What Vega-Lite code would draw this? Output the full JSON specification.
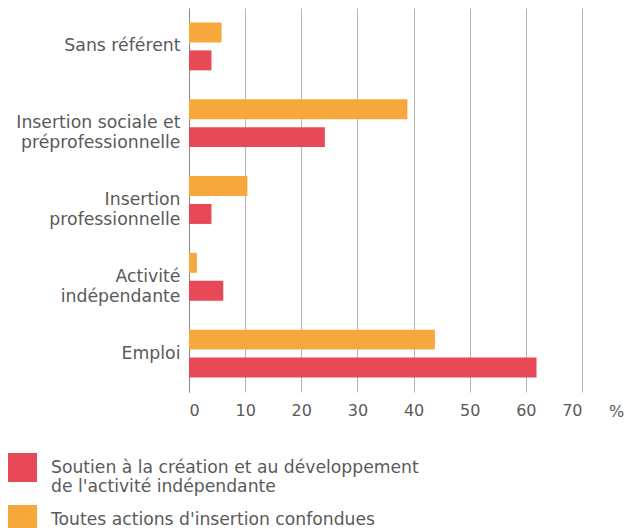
{
  "$schema": "https://vega.github.io/schema/vega-lite/v6.json",
  "autosize": "none",
  "width": 393,
  "height": 384,
  "padding": {"left": 189, "top": 8, "right": 47, "bottom": 136},
  "background": "white",
  "config": {
    "view": {"stroke": null},
    "font": "DejaVu Sans",
    "axis": {"labelColor": "#5a5a5a", "titleColor": "#5a5a5a"},
    "legend": {"labelColor": "#5a5a5a"}
  },
  "data": {
    "values": [
      {"categorie": "Sans référent", "serie": "Toutes actions d'insertion confondues", "valeur": 5.8},
      {"categorie": "Sans référent", "serie": "Soutien à la création et au développement de l'activité indépendante", "valeur": 4.0},
      {"categorie": "Insertion sociale et préprofessionnelle", "serie": "Toutes actions d'insertion confondues", "valeur": 38.9},
      {"categorie": "Insertion sociale et préprofessionnelle", "serie": "Soutien à la création et au développement de l'activité indépendante", "valeur": 24.2},
      {"categorie": "Insertion professionnelle", "serie": "Toutes actions d'insertion confondues", "valeur": 10.4},
      {"categorie": "Insertion professionnelle", "serie": "Soutien à la création et au développement de l'activité indépendante", "valeur": 4.0},
      {"categorie": "Activité indépendante", "serie": "Toutes actions d'insertion confondues", "valeur": 1.4},
      {"categorie": "Activité indépendante", "serie": "Soutien à la création et au développement de l'activité indépendante", "valeur": 6.1},
      {"categorie": "Emploi", "serie": "Toutes actions d'insertion confondues", "valeur": 43.8},
      {"categorie": "Emploi", "serie": "Soutien à la création et au développement de l'activité indépendante", "valeur": 61.9}
    ]
  },
  "mark": {"type": "bar"},
  "encoding": {
    "y": {
      "field": "categorie",
      "type": "nominal",
      "sort": ["Sans référent", "Insertion sociale et préprofessionnelle", "Insertion professionnelle", "Activité indépendante", "Emploi"],
      "scale": {"paddingInner": 0.377, "paddingOuter": 0.1885},
      "axis": {
        "title": null,
        "ticks": false,
        "domain": true,
        "domainColor": "#8a8a8a",
        "domainWidth": 1,
        "labelFontSize": 17.3,
        "labelFontWeight": "normal",
        "labelPadding": 9,
        "labelLineHeight": 20,
        "labelLimit": 200,
        "labelExpr": "datum.label == 'Insertion sociale et préprofessionnelle' ? ['Insertion sociale et', 'préprofessionnelle'] : datum.label == 'Insertion professionnelle' ? ['Insertion', 'professionnelle'] : datum.label == 'Activité indépendante' ? ['Activité', 'indépendante'] : datum.label"
      }
    },
    "yOffset": {
      "field": "serie",
      "type": "nominal",
      "sort": ["Toutes actions d'insertion confondues", "Soutien à la création et au développement de l'activité indépendante"],
      "scale": {"paddingInner": 0.2857, "paddingOuter": 0}
    },
    "x": {
      "field": "valeur",
      "type": "quantitative",
      "scale": {"domain": [0, 70], "nice": false},
      "axis": {
        "values": [0, 10, 20, 30, 40, 50, 60, 70],
        "grid": true,
        "gridColor": "#b5b5b5",
        "gridWidth": 1,
        "ticks": false,
        "domain": false,
        "labelFontSize": 16,
        "labelPadding": 10,
        "title": "%",
        "titleFontSize": 16,
        "titleFontWeight": "normal",
        "titleAngle": 0,
        "titleX": 427,
        "titleY": 19,
        "titleBaseline": "middle",
        "titleAlign": "center"
      }
    },
    "color": {
      "field": "serie",
      "type": "nominal",
      "scale": {
        "domain": ["Soutien à la création et au développement de l'activité indépendante", "Toutes actions d'insertion confondues"],
        "range": ["#e84956", "#f6a83c"]
      },
      "legend": {
        "title": null,
        "orient": "none",
        "legendX": -181,
        "legendY": 445,
        "direction": "vertical",
        "symbolType": "square",
        "symbolSize": 840,
        "symbolStrokeWidth": 0,
        "symbolOpacity": 1,
        "labelFontSize": 17.2,
        "labelLineHeight": 18,
        "labelOffset": 14,
        "labelLimit": 500,
        "rowPadding": 10,
        "labelExpr": "datum.label == \"Soutien à la création et au développement de l'activité indépendante\" ? ['Soutien à la création et au développement', \"de l'activité indépendante\"] : datum.label"
      }
    }
  }
}
